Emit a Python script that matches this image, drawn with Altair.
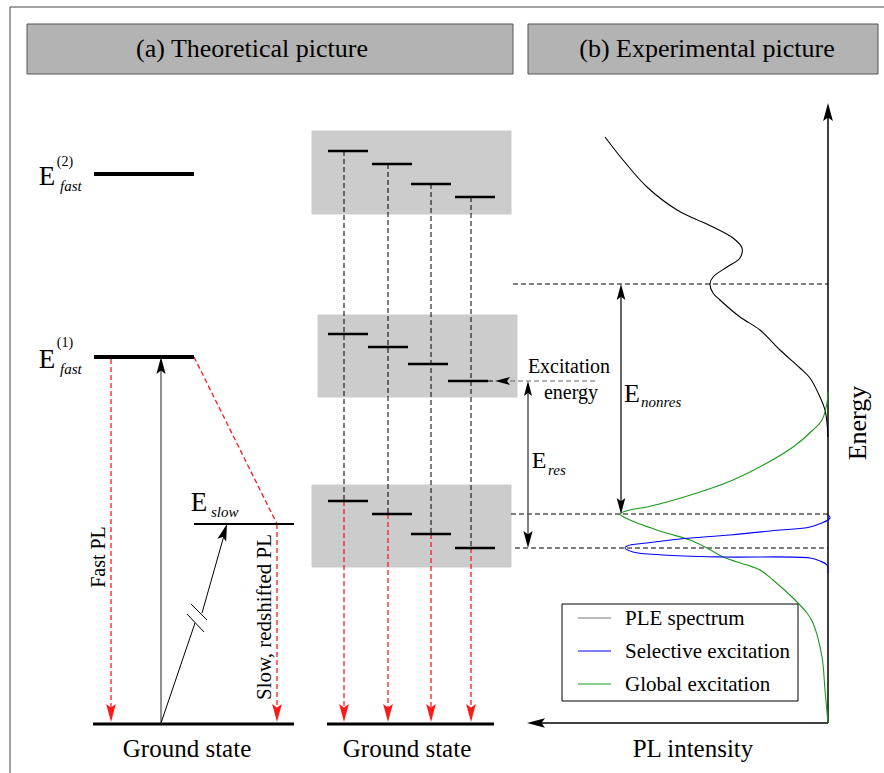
import altair as alt
import pandas as pd

W, H = 884, 773
FONT = "Liberation Serif"

# ---------------- panel (a): theoretical level scheme ----------------
fast_level_y = [174, 357]                 # E_fast^(2), E_fast^(1)
fast_level_x = [94, 194]
slow_level_y = 524
slow_level_x = [194, 294]
ground_y = 724
ground_a_x = [93, 294]
ground_b_x = [327, 494]
pump_x = 161                              # excitation arrow foot
fast_pl_x = 111
slow_pl_x = 277
slow_pump_tip = (227, 524)

# quantum-dot ensemble: three shells (boxes) with one level per dot
dot_x = [344, 388, 431, 471]
shell_box_x = [(312, 511), (318, 517), (312, 511)]
shell_box_y = [(131, 214), (315, 397), (485, 567)]
shell_level_y = [[151, 164, 184, 197], [334, 347, 364, 381], [501, 514, 534, 548]]
shell_level_x0 = [[328, 372, 411, 455], [328, 368, 408, 448], [328, 372, 411, 455]]
LEVEL_LEN = 40

# ---------------- panel (b): experimental picture ----------------
exc_y = 381
res_y = [514, 548]
nonres_y = 284
eres_x = 528
enonres_x = 621
axis_x, axis_y0, axis_top, axis_left = 828, 723, 103, 527

# PLE spectrum (energy runs upward, intensity to the left)
ple_x = [605, 623, 647, 677, 693, 713, 733, 742, 740, 727, 713, 710, 713, 720,
         740, 760, 780, 800, 810, 820, 825, 827, 828]
ple_y = [137, 160, 187, 210, 218, 227, 238, 248, 258, 267, 277, 284, 293, 300,
         317, 330, 350, 368, 378, 397, 410, 423, 437]
# PL under global (non-resonant) excitation
glob_x = [828, 827, 822, 813, 793, 767, 733, 697, 647, 630, 620, 630, 663, 690,
          707, 723, 747, 760, 773, 793, 807, 813, 822, 825, 828]
glob_y = [392, 403, 420, 430, 447, 463, 480, 493, 507, 510, 514, 520, 532, 540,
          548, 557, 565, 570, 580, 598, 613, 623, 657, 690, 723]
# PL under selective (resonant) excitation
sel_x = [828, 830, 810, 780, 730, 680, 647, 627, 625, 633, 663, 723, 810, 820, 827, 828]
sel_y = [515, 518, 527, 530, 535, 539, 543, 546, 548, 552, 555, 557, 558, 561, 565, 573]

legend_labels = ["PLE spectrum", "Selective excitation", "Global excitation"]
legend_colors = ["#777777", "#0000ff", "#1a9a1a"]
legend_rows_y = [618, 651, 684]

RED = "#ff1a1a"

XS = alt.Scale(domain=[0, W], range=[0, W], nice=False, zero=False)
YS = alt.Scale(domain=[0, H], range=[0, H], nice=False, zero=False)


def X(f="x"):
    return alt.X(f"{f}:Q", scale=XS, axis=None)


def Y(f="y"):
    return alt.Y(f"{f}:Q", scale=YS, axis=None)


# ---------------- rectangles ----------------
rects = [
    (27, 513, 24, 74, "#b3b3b3", "#555555"),
    (528, 878, 24, 74, "#b3b3b3", "#555555"),
]
for (bx0, bx1), (by0, by1) in zip(shell_box_x, shell_box_y):
    rects.append((bx0, bx1, by0, by1, "#cccccc", "#cccccc"))
rect_df = pd.DataFrame(rects, columns=["x", "x2", "y", "y2", "fill", "stroke"])
rect_layer = alt.Chart(rect_df).mark_rect(strokeWidth=1).encode(
    x=X(), x2="x2:Q", y=Y(), y2="y2:Q",
    fill=alt.Fill("fill:N", scale=None), stroke=alt.Stroke("stroke:N", scale=None))

legend_box = alt.Chart(pd.DataFrame([{"x": 562, "x2": 798, "y": 604, "y2": 701}])).mark_rect(
    fill="white", stroke="black", strokeWidth=1).encode(x=X(), x2="x2:Q", y=Y(), y2="y2:Q")

# ---------------- line segments ----------------
solid = []  # x, y, x2, y2, color, width
# frame
solid += [(10, 7, W, 7, "#444444", 1), (10, 7, 10, H, "#444444", 1)]
for fy in fast_level_y:
    solid.append((fast_level_x[0], fy, fast_level_x[1], fy, "black", 4))
solid.append((slow_level_x[0], slow_level_y, slow_level_x[1], slow_level_y, "black", 2))
solid.append((ground_a_x[0], ground_y, ground_a_x[1], ground_y, "black", 3))
solid.append((ground_b_x[0], ground_y, ground_b_x[1], ground_y, "black", 3))
# pump arrows
solid.append((pump_x, ground_y - 1, pump_x, fast_level_y[1] + 8, "#555555", 1.3))
solid.append((pump_x, ground_y - 1, 195, 623, "black", 1))
solid.append((202, 613, slow_pump_tip[0] - 2, slow_pump_tip[1] + 8, "black", 1))
# break marks on the slow pump arrow
solid.append((191, 604, 207, 620, "black", 1))
solid.append((187, 614, 204, 632, "black", 1))
# shell levels
for row_y, row_x in zip(shell_level_y, shell_level_x0):
    for ly, lx in zip(row_y, row_x):
        solid.append((lx, ly, lx + LEVEL_LEN, ly, "black", 2.5))
# axes of panel (b)
solid.append((axis_x, axis_y0, axis_x, axis_top + 8, "black", 1.5))
solid.append((axis_x, axis_y0, axis_left + 8, axis_y0, "black", 1.5))
# energy differences
solid.append((eres_x, exc_y + 6, eres_x, res_y[1] - 6, "#555555", 1.5))
solid.append((enonres_x, nonres_y + 6, enonres_x, res_y[0] - 6, "black", 1.2))

legend_samples = [(578, ly, 611, ly, c, 1.2) for c, ly in zip(legend_colors, legend_rows_y)]

dashed = []
for i, dx in enumerate(dot_x):
    dashed.append((dx, shell_level_y[0][i], dx, shell_level_y[2][i], "black", 1))
    dashed.append((dx, shell_level_y[2][i], dx, ground_y - 10, RED, 1.3))
dashed.append((fast_pl_x, fast_level_y[1] + 2, fast_pl_x, ground_y - 10, RED, 1.3))
dashed.append((fast_level_x[1], fast_level_y[1], slow_pl_x, slow_level_y, RED, 1.3))
dashed.append((slow_pl_x, slow_level_y, slow_pl_x, ground_y - 10, RED, 1.3))
dashed.append((488, exc_y, 495, exc_y, "black", 1))
dashed.append((510, exc_y, 597, exc_y, "#666666", 1))
dashed.append((513, nonres_y, axis_x, nonres_y, "black", 1))
dashed.append((511, res_y[0], axis_x, res_y[0], "black", 1))
dashed.append((515, res_y[1], axis_x, res_y[1], "black", 1))

cols = ["x", "y", "x2", "y2", "color", "width"]


def seg_layer(rows, dash=None):
    kw = {"strokeDash": dash} if dash else {}
    return alt.Chart(pd.DataFrame(rows, columns=cols)).mark_rule(**kw).encode(
        x=X(), y=Y(), x2="x2:Q", y2="y2:Q",
        color=alt.Color("color:N", scale=None),
        strokeWidth=alt.StrokeWidth("width:Q", scale=None))


dashed_layer = seg_layer(dashed, [5, 3])
solid_layer = seg_layer(solid)
legend_sample_layer = seg_layer(legend_samples)

# ---------------- spectra ----------------
curves = []
for name, xs, ys, c in [("ple", ple_x, ple_y, "black"),
                        ("glob", glob_x, glob_y, "#1a9a1a"),
                        ("sel", sel_x, sel_y, "#0000ff")]:
    for k, (cx, cy) in enumerate(zip(xs, ys)):
        curves.append({"x": cx, "y": cy, "k": k, "curve": name, "color": c})
curve_layer = alt.Chart(pd.DataFrame(curves)).mark_line(
    interpolate="catmull-rom", strokeWidth=1.1).encode(
    x=X(), y=Y(), order="k:Q", detail="curve:N",
    color=alt.Color("color:N", scale=None))

# ---------------- arrowheads ----------------
HEAD = "M0,0 L-0.27,1 L0,0.8 L0.27,1 Z"   # tip at the anchor, pointing up
heads = []  # x, y, angle, color, length
for hx in [fast_pl_x, slow_pl_x] + dot_x:
    heads.append((hx, ground_y - 2, 180, RED, 18))
heads.append((pump_x, fast_level_y[1], 0, "black", 17))
heads.append((slow_pump_tip[0], slow_pump_tip[1], 18, "black", 17))
heads.append((495, exc_y, 270, "black", 15))
heads.append((eres_x, exc_y, 0, "black", 15))
heads.append((eres_x, res_y[1], 180, "black", 17))
heads.append((enonres_x, nonres_y, 0, "black", 16))
heads.append((enonres_x, res_y[0], 180, "black", 16))
heads.append((axis_x, axis_top, 0, "black", 18))
heads.append((axis_left, axis_y0, 270, "black", 18))
head_df = pd.DataFrame(heads, columns=["x", "y", "angle", "color", "len"])
head_df["size"] = (2 * head_df["len"]) ** 2
head_layer = alt.Chart(head_df).mark_point(
    shape=HEAD, filled=True, opacity=1, strokeWidth=0).encode(
    x=X(), y=Y(),
    angle=alt.Angle("angle:Q", scale=None),
    color=alt.Color("color:N", scale=None),
    size=alt.Size("size:Q", scale=None))

# ---------------- text ----------------
center_text = [  # x, y(baseline), text, size, angle
    (252, 57, "(a) Theoretical picture", 26, 0),
    (707, 57, "(b) Experimental picture", 26, 0),
    (187, 757, "Ground state", 25, 0),
    (407, 757, "Ground state", 25, 0),
    (693, 757, "PL intensity", 25, 0),
    (569, 373, "Excitation", 20, 0),
    (571, 399, "energy", 20, 0),
    (105, 557, "Fast PL", 20, 270),
    (271, 617, "Slow, redshifted PL", 21, 270),
    (866, 423, "Energy", 26, 270),
    (47, 185, "E", 27, 0),
    (47, 368, "E", 27, 0),
    (199, 511, "E", 27, 0),
    (539, 468, "E", 24, 0),
    (632, 402, "E", 26, 0),
    (65, 166, "(2)", 14, 0),
    (65, 347, "(1)", 14, 0),
]
left_text = [(625, ly + 7, lab, 21) for lab, ly in zip(legend_labels, legend_rows_y)]
italic_text = [  # left-aligned subscripts
    (60, 191, "fast"), (60, 374, "fast"), (211, 517, "slow"),
    (548, 475, "res"), (641, 407, "nonres"),
]

ct = pd.DataFrame(center_text, columns=["x", "y", "text", "size", "angle"])
center_layer = alt.Chart(ct).mark_text(font=FONT, align="center", baseline="alphabetic",
                                       color="black").encode(
    x=X(), y=Y(), text="text:N",
    size=alt.Size("size:Q", scale=None), angle=alt.Angle("angle:Q", scale=None))
left_layer = alt.Chart(pd.DataFrame(left_text, columns=["x", "y", "text", "size"])).mark_text(
    font=FONT, align="left", baseline="alphabetic", color="black").encode(
    x=X(), y=Y(), text="text:N", size=alt.Size("size:Q", scale=None))
italic_layer = alt.Chart(pd.DataFrame(italic_text, columns=["x", "y", "text"])).mark_text(
    font=FONT, fontStyle="italic", fontSize=15, align="left", baseline="alphabetic",
    color="black").encode(x=X(), y=Y(), text="text:N")

chart = alt.layer(
    rect_layer, dashed_layer, solid_layer, curve_layer, legend_box,
    legend_sample_layer, center_layer, left_layer, italic_layer, head_layer,
).properties(
    width=W, height=H, padding=0, autosize="none", background="white"
).configure_view(stroke=None)

chart.save("out.html", embed_options={"renderer": "svg", "actions": False})
